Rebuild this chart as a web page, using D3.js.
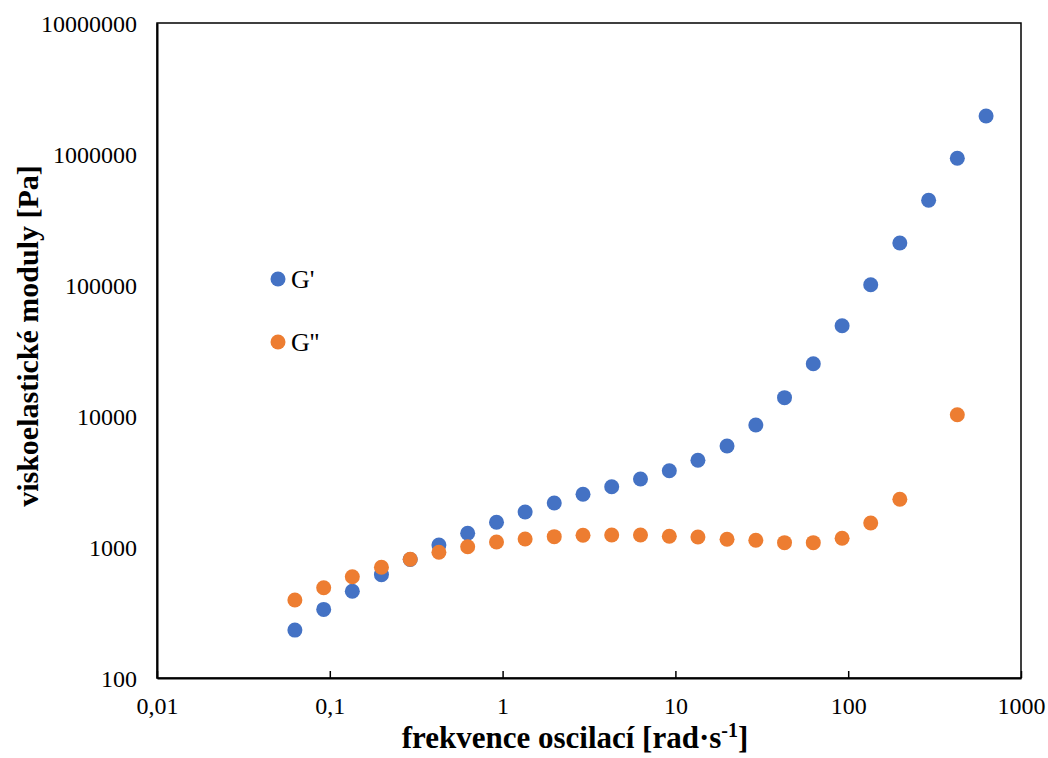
<!DOCTYPE html>
<html>
<head>
<meta charset="utf-8">
<script src="https://cdn.jsdelivr.net/npm/d3@7"></script>
<style>
  body { margin: 0; background: #fff; }
  svg { display: block; }
  text { font-family: "Liberation Serif", "Times New Roman", serif; fill: #000; }
</style>
</head>
<body>
<svg id="chart" width="1048" height="758"></svg>
<script>
// Angular frequency [rad/s]
const frequency = [0.0628, 0.0922, 0.135, 0.199, 0.292, 0.428, 0.628, 0.922, 1.35, 1.99,
  2.92, 4.28, 6.28, 9.22, 13.5, 19.9, 29.2, 42.8, 62.8, 92.2, 135, 199, 292, 428, 628];
// Storage modulus G' [Pa]
const gStorage = [232, 334, 459, 615, 803, 1036, 1273, 1544, 1850, 2168,
  2525, 2885, 3304, 3822, 4590, 5900, 8540, 13800, 25070, 48900,
  100500, 209400, 443300, 927000, 1950000];
// Loss modulus G'' [Pa] (null = not measured)
const gLoss = [394, 489, 593, 700, 806, 911, 1005, 1092, 1151, 1199,
  1228, 1235, 1235, 1207, 1192, 1146, 1125, 1079, 1079, 1165,
  1525, 2313, null, 10230, null];

const seriesNames = ["G'", "G''"];
const seriesColors = ["#4472C4", "#ED7D31"];
const xTickValues = [0.01, 0.1, 1, 10, 100, 1000];
const xTickLabels = ["0,01", "0,1", "1", "10", "100", "1000"];
const yTickValues = [100, 1000, 10000, 100000, 1000000, 10000000];
const yTickLabels = ["100", "1000", "10000", "100000", "1000000", "10000000"];

(function () {
const svg = d3.select("#chart");
const pLeft = 157, pRight = 1021, pTop = 23, pBottom = 678;

const x = d3.scaleLog().domain([0.01, 1000]).range([pLeft, pRight]);
const y = d3.scaleLog().domain([100, 10000000]).range([pBottom, pTop]);

// plot border
svg.append("rect")
  .attr("x", pLeft).attr("y", pTop)
  .attr("width", pRight - pLeft).attr("height", pBottom - pTop)
  .attr("fill", "none").attr("stroke", "#000").attr("stroke-width", 1.5);

// x axis
const xAxis = d3.axisBottom(x)
  .tickValues(xTickValues)
  .tickFormat((d, i) => xTickLabels[i])
  .tickSizeInner(-7).tickSizeOuter(0).tickPadding(0);
const gx = svg.append("g").attr("transform", `translate(0,${pBottom})`).call(xAxis);
gx.select(".domain").attr("stroke", "#000").attr("stroke-width", 2);
gx.selectAll(".tick line").attr("stroke", "#000").attr("stroke-width", 1.5);
gx.selectAll(".tick text")
  .attr("y", 36).attr("dy", null)
  .style("font-family", "'Liberation Serif', 'Times New Roman', serif")
  .style("font-size", "24px").attr("fill", "#000");

// y axis
const yAxis = d3.axisLeft(y)
  .tickValues(yTickValues)
  .tickFormat((d, i) => yTickLabels[i])
  .tickSize(0).tickPadding(20);
const gy = svg.append("g").attr("transform", `translate(${pLeft},0)`).call(yAxis);
gy.select(".domain").attr("stroke", "#000").attr("stroke-width", 2);
gy.selectAll(".tick text")
  .attr("dy", "0.34em")
  .style("font-family", "'Liberation Serif', 'Times New Roman', serif")
  .style("font-size", "24px").attr("fill", "#000");

// data
const seriesData = [gStorage, gLoss];
seriesData.forEach((vals, si) => {
  const pts = frequency.map((f, i) => ({ f, v: vals[i] })).filter(d => d.v != null);
  svg.append("g").selectAll("circle").data(pts).join("circle")
    .attr("cx", d => x(d.f))
    .attr("cy", d => y(d.v))
    .attr("r", 7.5)
    .attr("fill", seriesColors[si]);
});

// legend
const legendY = [279, 342];
seriesNames.forEach((name, i) => {
  svg.append("circle").attr("cx", 278).attr("cy", legendY[i]).attr("r", 7.5).attr("fill", seriesColors[i]);
  svg.append("text").attr("x", 291).attr("y", legendY[i] + 9)
    .style("font-size", "26px").text(name);
});

// axis titles
const xt = svg.append("text")
  .attr("x", 575).attr("y", 748)
  .attr("text-anchor", "middle")
  .style("font-size", "31px").style("font-weight", "bold");
xt.append("tspan").text("frekvence oscilací [rad·s");
xt.append("tspan").attr("dy", -11).style("font-size", "20px").text("-1");
xt.append("tspan").attr("dy", 11).text("]");

svg.append("text")
  .attr("transform", `translate(38,${336}) rotate(-90)`)
  .attr("text-anchor", "middle")
  .style("font-size", "30px").style("font-weight", "bold")
  .text("viskoelastické moduly [Pa]");
})();
</script>
</body>
</html>
